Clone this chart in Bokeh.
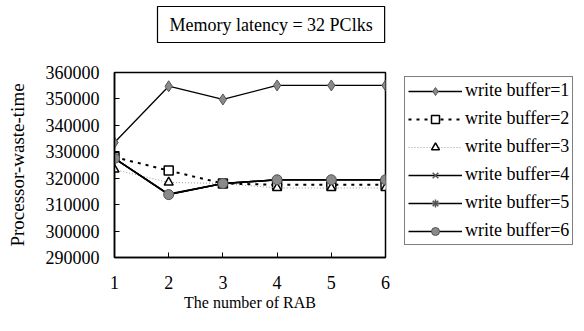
from bokeh.plotting import figure
from bokeh.models import Legend, LegendItem, FixedTicker, Range1d, Title
from bokeh.embed import file_html
from bokeh.resources import INLINE

rab = [1, 2, 3, 4, 5, 6]
wb1 = [333500, 354800, 349800, 355100, 355100, 355100]
wb2 = [328000, 322900, 318000, 317500, 317500, 317500]
wb3 = [323300, 318400, 318000, 316300, 316300, 316300]
wb4 = [327500, 314000, 318000, 319400, 319400, 319400]
wb5 = [327500, 313800, 318000, 319400, 319400, 319400]
wb6 = [327500, 313800, 318000, 319400, 319400, 319400]
y_ticks = [290000, 300000, 310000, 320000, 330000, 340000, 350000, 360000]
names = ["write buffer=1", "write buffer=2", "write buffer=3",
         "write buffer=4", "write buffer=5", "write buffer=6"]
title_text = "Memory latency = 32 PClks"

FONT = "Liberation Serif"

p = figure(frame_width=271, frame_height=185, output_backend="svg", toolbar_location=None,
           x_range=Range1d(1, 6), y_range=Range1d(290000, 360000),
           min_border_left=114, min_border_top=72, min_border_right=195,
           min_border_bottom=64)
try:
    p.title = None
except Exception:
    p.title.visible = False
p.grid.visible = False
p.outline_line_color = "black"
p.outline_line_width = 1.5
p.background_fill_color = "white"
p.border_fill_color = "white"

spacer = Title(text=" ", text_font_size="14px", standoff=10, padding=0)
main_title = Title(text=title_text, text_font=FONT, text_font_size="18px",
                   text_font_style="normal", text_color="black", align="left",
                   offset=43, border_line_color="black", border_line_width=1.2,
                   background_fill_color="white", padding=(12, 8), standoff=4)
p.add_layout(spacer, "above")
p.add_layout(main_title, "above")

p.xaxis.ticker = FixedTicker(ticks=rab)
p.yaxis.ticker = FixedTicker(ticks=y_ticks)
p.yaxis.formatter.use_scientific = False
for ax in (p.xaxis, p.yaxis):
    ax.axis_line_color = "black"
    ax.axis_line_width = 1.5
    ax.major_tick_in = 5
    ax.major_tick_out = 0
    ax.minor_tick_in = 0
    ax.minor_tick_out = 0
    ax.major_tick_line_color = "black"
    ax.major_label_text_font = FONT
    ax.major_label_text_font_size = "18px"
    ax.major_label_text_color = "black"
    ax.axis_label_text_font = FONT
    ax.axis_label_text_font_style = "normal"
    ax.axis_label_text_color = "black"
p.xaxis.axis_label = "The number of RAB"
p.xaxis.axis_label_text_font_size = "16px"
p.xaxis.major_label_standoff = 18
p.xaxis.axis_label_standoff = 2
p.yaxis.axis_label = "Processor-waste-time"
p.yaxis.axis_label_text_font_size = "19px"
p.yaxis.major_label_standoff = 15
p.yaxis.axis_label_standoff = 15

gray = "#8a8a8a"
dark = "#555555"

items = []
l1 = p.line(rab, wb1, line_color="black", line_width=1.3)
m1 = p.scatter(rab, wb1, marker="diamond", size=11, fill_color=gray, line_color=dark)
items.append(LegendItem(label=names[0], renderers=[l1, m1]))
l2 = p.line(rab, wb2, line_color="black", line_width=2, line_dash="3 5")
m2 = p.scatter(rab, wb2, marker="square", size=9, fill_color="white", line_color="black", line_width=1.5)
items.append(LegendItem(label=names[1], renderers=[l2, m2]))
l3 = p.line(rab, wb3, line_color="#9a9a9a", line_width=1, line_dash="1 2")
m3 = p.scatter(rab, wb3, marker="triangle", size=9, fill_color="white", line_color="black", line_width=1.5)
items.append(LegendItem(label=names[2], renderers=[l3, m3]))
l4 = p.line(rab, wb4, line_color="black", line_width=1.5)
m4 = p.scatter(rab, wb4, marker="x", size=9, line_color=dark, line_width=1.5)
items.append(LegendItem(label=names[3], renderers=[l4, m4]))
l5 = p.line(rab, wb5, line_color="black", line_width=1.5)
m5 = p.scatter(rab, wb5, marker="asterisk", size=10, line_color=dark, line_width=1.5)
items.append(LegendItem(label=names[4], renderers=[l5, m5]))
l6 = p.line(rab, wb6, line_color="black", line_width=1.5)
m6 = p.scatter(rab, wb6, marker="circle", size=10, fill_color=gray, line_color=dark)
items.append(LegendItem(label=names[5], renderers=[l6, m6]))

legend = Legend(items=items, location=(19, 12))
legend.label_text_font = FONT
legend.label_text_font_size = "18px"
legend.label_text_color = "black"
legend.glyph_width = 54
legend.glyph_height = 20
legend.label_height = 20
legend.spacing = 7
legend.padding = 3
legend.margin = 0
legend.label_standoff = 3
legend.border_line_color = "black"
legend.border_line_width = 1
legend.background_fill_color = "white"
legend.background_fill_alpha = 1
p.add_layout(legend, "right")

open("out.html", "w").write(file_html(p, INLINE))
